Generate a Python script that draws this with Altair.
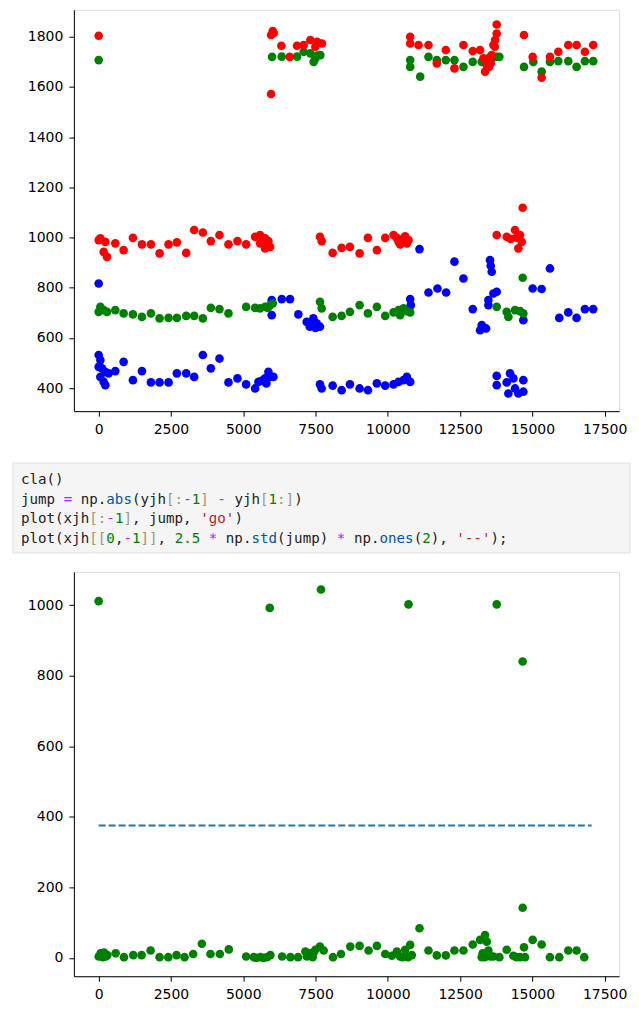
import altair as alt
import pandas as pd

# ---------------- data ----------------
red_points = [
    (0, 1804), (5962, 1807), (6020, 1823), (6054, 1815), (6319, 1764), (6607, 1720), (6860, 1764), (5962, 1572),
    (7090, 1767), (7320, 1787), (7551, 1780), (7723, 1773), (7493, 1760), (7600, 1775),
    (10773, 1800), (10773, 1773), (11061, 1767), (11406, 1767), (11694, 1694), (12005, 1747), (12304, 1674),
    (12615, 1767), (12937, 1743), (13191, 1747), (13306, 1714), (13363, 1661), (13421, 1687), (13450, 1700),
    (13500, 1680), (13550, 1720), (13559, 1694), (13593, 1727), (13651, 1767), (13700, 1760), (13708, 1787),
    (13766, 1813), (13766, 1849), (14710, 1807), (15009, 1720), (15320, 1637), (15608, 1720), (15896, 1740),
    (16241, 1767), (16529, 1767), (16816, 1740), (17104, 1767),
    (0, 990), (58, 997), (230, 983), (173, 943), (288, 923), (575, 977), (863, 950), (1185, 999), (1496, 973),
    (1807, 973), (2106, 937), (2417, 973), (2705, 981), (3027, 939), (3303, 1030), (3603, 1020), (3879, 986),
    (4178, 1010), (4489, 973), (4800, 986), (5099, 973), (5410, 1003), (5582, 1010), (5755, 997), (5870, 986),
    (5928, 963), (5755, 957), (5582, 977), (5700, 990), (7654, 1003), (7712, 986), (8092, 939), (8402, 959),
    (8690, 963), (9024, 937), (9312, 999), (9622, 950), (9910, 999), (10198, 1010), (10371, 983), (10543, 997),
    (10716, 990), (10658, 977), (10428, 973), (10300, 1000), (10600, 1005), (13766, 1010), (14111, 1003),
    (14399, 1030), (14572, 1010), (14630, 983), (14514, 957), (14664, 1119), (14250, 995), (14450, 1000),
]
green_points = [
    (0, 1707), (5996, 1720), (6330, 1721), (6860, 1721), (7090, 1740), (7320, 1734), (7493, 1714), (7666, 1727),
    (7435, 1700), (7550, 1725), (10773, 1707), (10773, 1680), (11119, 1641), (11406, 1720), (11694, 1707),
    (12005, 1707), (12304, 1707), (12615, 1680), (12937, 1700), (13248, 1700), (13400, 1710), (13478, 1714),
    (13600, 1715), (13766, 1720), (13858, 1720), (14710, 1680), (15032, 1700), (15320, 1661), (15608, 1700),
    (15896, 1703), (16241, 1703), (16529, 1680), (16816, 1703), (17104, 1703),
    (0, 704), (58, 724), (173, 711), (288, 704), (575, 711), (863, 698), (1185, 694), (1496, 684), (1807, 698),
    (2106, 678), (2417, 680), (2705, 680), (3027, 688), (3303, 688), (3603, 678), (3879, 720), (4178, 715),
    (4489, 698), (5099, 724), (5410, 720), (5582, 718), (5755, 724), (5850, 720), (5928, 731), (6020, 738),
    (7654, 744), (7712, 718), (8092, 684), (8402, 688), (8690, 704), (9024, 731), (9312, 698), (9622, 724),
    (9910, 688), (10198, 702), (10371, 711), (10543, 718), (10658, 707), (10773, 702), (10428, 691),
    (13766, 724), (14111, 704), (14169, 684), (14399, 711), (14572, 707), (14687, 698), (14664, 840),
]
blue_points = [
    (0, 817), (5985, 751), (6331, 755), (6618, 755), (5985, 691), (6906, 694), (7194, 664), (7366, 651),
    (7539, 658), (7424, 678), (7654, 645), (7300, 645), (7500, 640),
    (0, 532), (58, 512), (0, 485), (115, 479), (230, 465), (58, 445), (173, 425), (230, 412), (345, 459),
    (575, 468), (863, 505), (1185, 432), (1496, 468), (1807, 423), (2106, 423), (2417, 423), (2705, 459),
    (3027, 459), (3303, 445), (3603, 532), (3879, 479), (4178, 518), (4489, 423), (4800, 439), (5099, 415),
    (5410, 399), (5525, 425), (5650, 430), (5755, 439), (5870, 465), (5928, 445), (5800, 419), (6043, 445),
    (7654, 415), (7712, 399), (8092, 410), (8402, 392), (8690, 415), (9024, 399), (9312, 392), (9622, 419),
    (9910, 410), (10198, 415), (10371, 425), (10543, 432), (10658, 445), (10773, 425),
    (11096, 954), (12304, 904), (12615, 837), (11406, 781), (11717, 797), (12017, 781), (10773, 755),
    (10796, 731), (12937, 715), (13536, 910), (13559, 888), (13593, 864), (13651, 777), (13766, 784),
    (13478, 751), (13478, 731), (13248, 651), (13398, 638), (13191, 631), (13300, 640), (14687, 671),
    (15608, 877), (15009, 797), (15320, 795), (15930, 680), (16241, 702), (16529, 680), (16816, 715),
    (17104, 715),
    (13766, 449), (13766, 412), (14111, 423), (14227, 459), (14342, 439), (14399, 399), (14514, 379),
    (14687, 432), (14687, 386), (14169, 379),
]
jump_points = [
    (0, 1011), (5916, 992), (7689, 1044), (10716, 1002), (13766, 1002), (14664, 840), (14664, 142),
    (0, 4), (69, 13), (150, 2), (184, 15), (250, 4), (299, 8), (587, 13), (875, 2), (1197, 8), (1485, 8),
    (1796, 21), (2106, 2), (2406, 2), (2693, 8), (2970, 2), (3269, 11), (3568, 40), (3867, 11), (4190, 11),
    (4500, 24), (5099, 4), (5364, 2), (5450, 0), (5594, 2), (5700, 0), (5824, 2), (5939, 8), (6342, 4),
    (6630, 2), (6894, 2), (7148, 18), (7200, 4), (7320, 13), (7400, 2), (7435, 15), (7493, 23), (7650, 32),
    (7781, 21), (8103, 2), (8379, 11), (8702, 32), (9024, 34), (9335, 21), (9622, 34), (9910, 11),
    (10140, 6), (10313, 18), (10428, 4), (10500, 2), (10601, 23), (10700, 2), (10773, 37), (10831, 8),
    (11096, 84), (11406, 21), (11694, 7), (12005, 7), (12304, 21), (12615, 21), (12937, 38), (13191, 51),
    (13248, 2), (13283, 13), (13350, 2), (13363, 65), (13421, 46), (13478, 21), (13550, 4), (13651, 4),
    (13858, 2), (14111, 23), (14342, 6), (14450, 2), (14572, 2), (14710, 30), (14744, 2), (15009, 51),
    (15320, 38), (15608, 2), (15930, 2), (16241, 21), (16529, 21), (16793, 2),
]
threshold_x = [0, 17050]
threshold_y = [375, 375]

x_ticks = [0, 2500, 5000, 7500, 10000, 12500, 15000, 17500]
top_y_ticks = [400, 600, 800, 1000, 1200, 1400, 1600, 1800]
bottom_y_ticks = [0, 200, 400, 600, 800, 1000]

code_lines = [
    "cla()",
    "jump = np.abs(yjh[:-1] - yjh[1:])",
    "plot(xjh[:-1], jump, 'go')",
    "plot(xjh[[0,-1]], 2.5 * np.std(jump) * np.ones(2), '--');",
]
# token kind per character: n plain, o operator, d number, s string, f attribute, b bracket
code_kinds = [
    "nnnnn",
    "nnnnnonnnnfffnnnnbbodbnonnnnbdbbn",
    "nnnnnnnnbbodbnnnnnnnnssssn",
    "nnnnnnnnbbdnodbbnndddnonnnnfffnnnnnnnonnnnffffndnnnssssnn",
]

# ---------------- styling ----------------
FONT = "DejaVu Sans"
X_DOMAIN = [-857, 17996]


def mpl_axis(values):
    return alt.Axis(values=values, format="d", grid=False, domainColor="black", domainWidth=1,
                    tickColor="black", tickWidth=1, tickSize=5, labelPadding=6, labelColor="black",
                    labelFont=FONT, labelFontSize=14, labelFlush=False, labelOverlap=False)


# ---------------- top scatter ----------------
rows = []
for name, pts in (("b", blue_points), ("g", green_points), ("r", red_points)):
    for x, y in pts:
        rows.append({"x": x, "y": y, "s": name})
top_df = pd.DataFrame(rows)

top = alt.Chart(top_df).mark_circle(size=75, opacity=1).encode(
    x=alt.X("x:Q", title=None, scale=alt.Scale(domain=X_DOMAIN, nice=False, zero=False),
            axis=mpl_axis(x_ticks)),
    y=alt.Y("y:Q", title=None, scale=alt.Scale(domain=[308.5, 1907.4], nice=False, zero=False),
            axis=mpl_axis(top_y_ticks)),
    color=alt.Color("s:N", scale=alt.Scale(domain=["b", "g", "r"], range=["#0000ff", "#008000", "#ff0000"]),
                    legend=None),
).properties(width=546, height=402)

# ---------------- code cell ----------------
tok_rows = []
for li, (line, kinds) in enumerate(zip(code_lines, code_kinds)):
    start = 0
    for i in range(1, len(line) + 1):
        if i == len(line) or kinds[i] != kinds[start] or line[i] == " " or line[start] == " ":
            tok = line[start:i]
            if tok.strip():
                tok_rows.append({"col": start, "line": li, "tok": tok, "kind": kinds[start]})
            start = i
tok_df = pd.DataFrame(tok_rows)

box = alt.Chart(pd.DataFrame({"a": [0]})).mark_rect(
    fill="#f5f5f5", stroke="#e0e0e0", strokeWidth=1
).encode(x=alt.value(-61), x2=alt.value(557), y=alt.value(52), y2=alt.value(142))

code_text = alt.Chart(tok_df).mark_text(
    font="DejaVu Sans Mono", fontSize=14.2, align="left", baseline="middle"
).encode(
    x=alt.X("col:Q", scale=alt.Scale(domain=[6.199, 70.06], nice=False, zero=False), axis=None),
    y=alt.Y("line:Q", scale=alt.Scale(domain=[-3.5258, 4.7011], nice=False, zero=False, reverse=True),
            axis=None),
    text="tok:N",
    color=alt.Color("kind:N", scale=alt.Scale(domain=["n", "o", "d", "s", "f", "b"],
                                              range=["#212121", "#aa22ff", "#008000", "#ba2121",
                                                     "#0055aa", "#999977"]), legend=None),
)

code = alt.layer(box, code_text).properties(
    width=546, height=161, view=alt.ViewBackground(stroke="transparent")
)

# ---------------- bottom scatter ----------------
jump_df = pd.DataFrame(jump_points, columns=["x", "y"])
thr_df = pd.DataFrame({"x": threshold_x, "y": threshold_y})

bx = alt.X("x:Q", title=None, scale=alt.Scale(domain=X_DOMAIN, nice=False, zero=False), axis=mpl_axis(x_ticks))
by = alt.Y("y:Q", title=None, scale=alt.Scale(domain=[-52, 1094], nice=False, zero=False),
           axis=mpl_axis(bottom_y_ticks))

jump_pts = alt.Chart(jump_df).mark_circle(size=75, opacity=1, color="#008000").encode(x=bx, y=by)
thr_line = alt.Chart(thr_df).mark_line(color="#1f77b4", strokeWidth=2, strokeDash=[7, 3]).encode(x=bx, y=by)

bottom = alt.layer(jump_pts, thr_line).properties(width=546, height=405)

chart = alt.vconcat(top, code, bottom, spacing=0, bounds="flush").resolve_scale(
    color="independent"
).properties(
    padding={"left": 4, "top": 0, "right": 0, "bottom": 0}
).configure_view(stroke="black", strokeWidth=1).configure(background="white")

chart.save("out.html", embed_options={"renderer": "svg", "actions": False})
